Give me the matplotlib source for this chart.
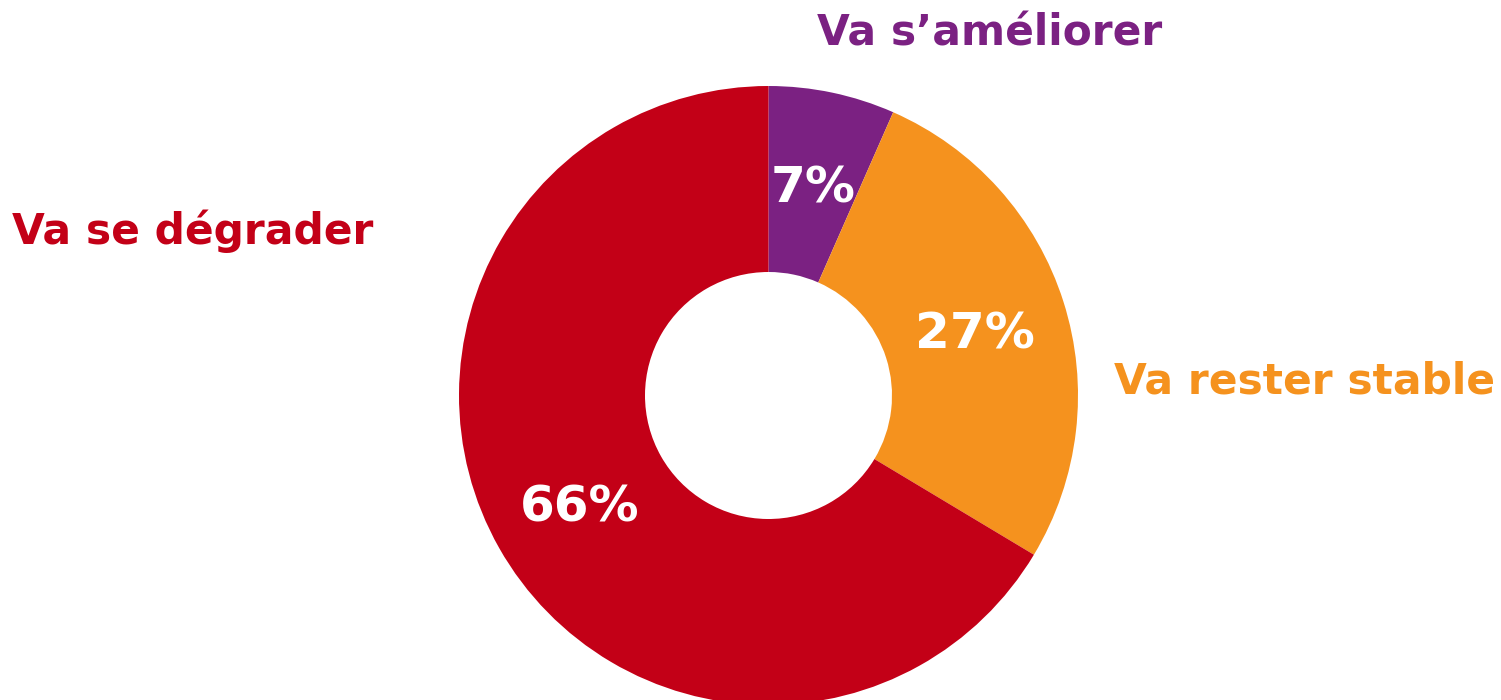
import matplotlib
matplotlib.use("Agg")
import matplotlib.pyplot as plt

# Data
categories = ["Va s’améliorer", "Va rester stable", "Va se dégrader"]
values = [6.6, 27.0, 66.4]
colors = ["#7B2182", "#F5921E", "#C30017"]

plt.rcParams["font.family"] = ["DejaVu Sans"]

fig = plt.figure(figsize=(15.01, 7), dpi=100)
ax = fig.add_axes([0, 0, 1, 1])

# Donut (pixel-like data coordinates, y up)
wedges, texts, autotexts = ax.pie(
    values,
    colors=colors,
    startangle=90,
    counterclock=False,
    radius=309.5,
    center=(768.5, 304.5),
    wedgeprops=dict(width=186, linewidth=0),
    autopct=lambda p: f"{p:.0f}%",
    pctdistance=0.7,
    textprops=dict(color="white", fontsize=36, fontweight="bold"),
)
# nudge percent labels a little lower, like the original
for t in autotexts:
    t.set_y(t.get_position()[1] - 5)

ax.set_xlim(0, 1501)
ax.set_ylim(0, 700)
ax.set_aspect("equal")
ax.axis("off")

# Category labels
label_pos = [(990, 700 - 33), (1305, 700 - 381), (193, 700 - 231)]
for name, col, (x, y) in zip(categories, colors, label_pos):
    ax.text(x, y, name, color=col, fontsize=30.5, fontweight="bold",
            ha="center", va="center")

fig.savefig("out.png", dpi=100)
